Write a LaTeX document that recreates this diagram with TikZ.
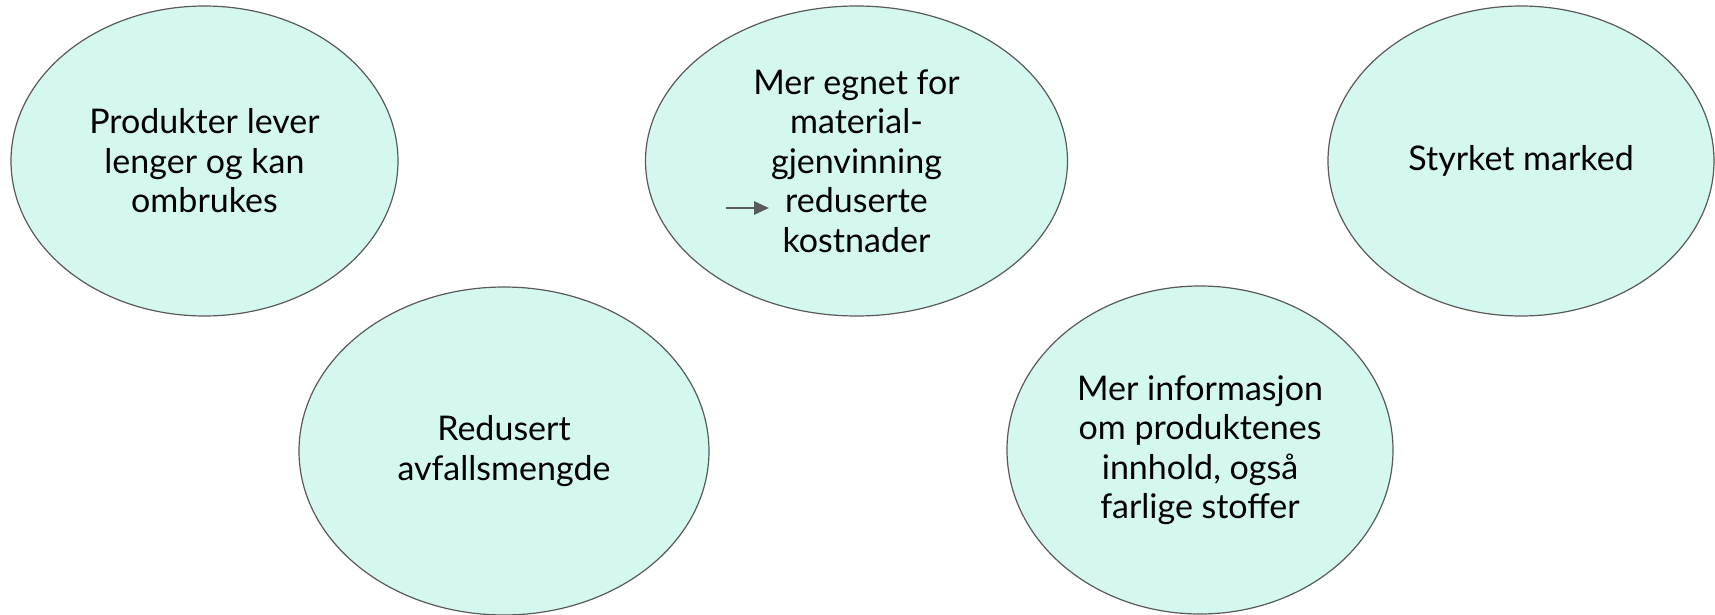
\documentclass[tikz,border=0pt]{standalone}
\usepackage{fontspec}
\setmainfont{Lato}
\usetikzlibrary{shapes.geometric,arrows.meta}
\definecolor{mint}{HTML}{D4F8F0}
\definecolor{rim}{HTML}{595959}

\begin{document}
\begin{tikzpicture}[x=0.5pt,y=-0.5pt,
    bubble/.style={ellipse,draw=rim,fill=mint,line width=0.6pt,inner sep=0pt,
        align=center,font=\fontsize{17}{19.7}\selectfont}]
                    \useasboundingbox (0,0) rectangle (1715,615);
                    \node[bubble,minimum width=193.5pt,minimum height=155pt](levetid) at (204.5,161){Produkter lever\\lenger og kan\\ombrukes};
                    \node[bubble,minimum width=205pt,minimum height=164pt](avfall) at (504,451){Redusert\\avfallsmengde};
                    \node[bubble,minimum width=211pt,minimum height=155pt](egnet) at (856.5,161){Mer egnet for\\material-\\gjenvinning\\reduserte\\kostnader};
                    \node[bubble,minimum width=193pt,minimum height=164pt](info) at (1200,450){Mer informasjon\\om produktenes\\innhold, også\\farlige stoffer};
                    \node[bubble,minimum width=193pt,minimum height=155pt](marked) at (1521,161){Styrket marked};
                    \coordinate(pilstart) at (726,208);
                    \coordinate(pilslutt) at (769,208);
                    \draw[rim,line width=1.4pt,-{Triangle[length=7.5pt,width=6.5pt]}](pilstart)--(pilslutt);
                \end{tikzpicture}
\end{document}
